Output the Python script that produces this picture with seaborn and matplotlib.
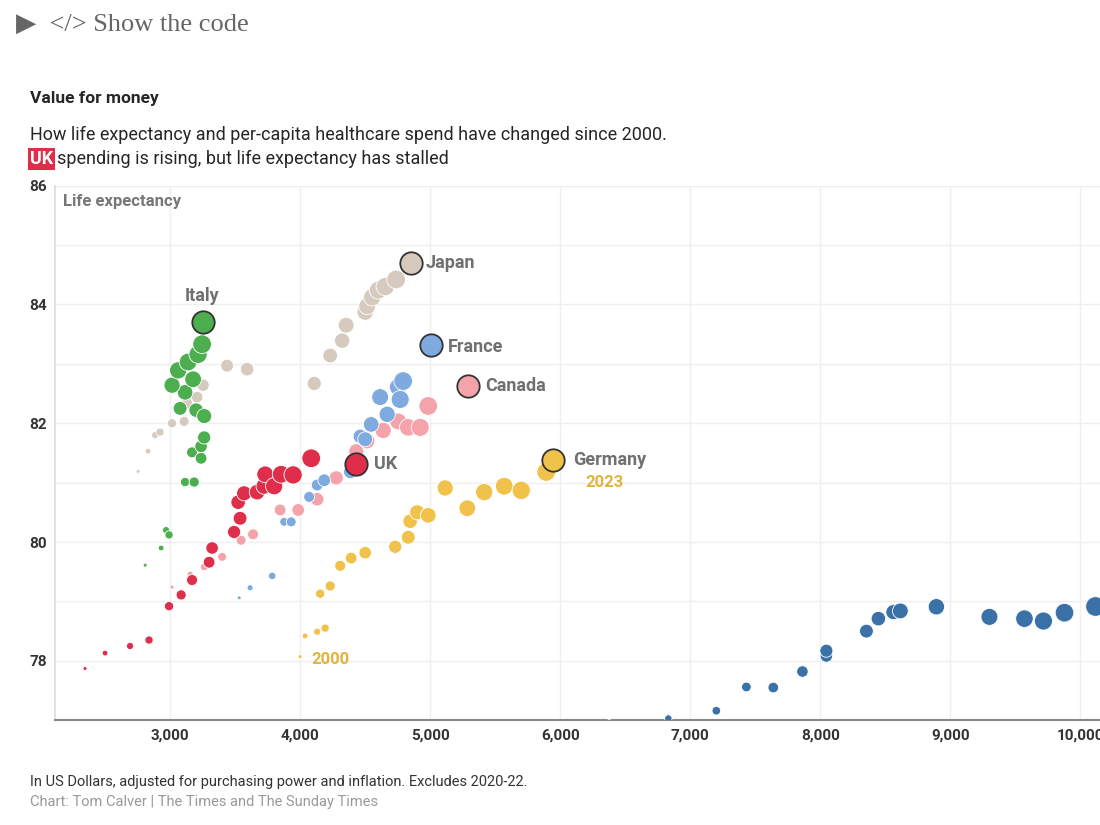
import numpy as np
import pandas as pd
import matplotlib.pyplot as plt
import seaborn as sns

# spend (US$ PPP) and life expectancy, 2000 -> 2023 (excl. 2020-22)
uk_spend = [2346, 2500, 2692, 2838, 2992, 3085, 3169, 3300, 3323, 3492, 3538, 3523, 3569, 3669, 3723, 3731, 3800, 3854, 3946, 4085, 4431]
uk_life = [77.87, 78.13, 78.25, 78.35, 78.92, 79.11, 79.36, 79.66, 79.90, 80.17, 80.40, 80.67, 80.82, 80.84, 80.94, 81.14, 80.94, 81.14, 81.13, 81.41, 81.31]
de_spend = [4000, 4038, 4131, 4192, 4154, 4231, 4308, 4392, 4500, 4731, 4831, 4846, 4900, 4985, 5115, 5285, 5415, 5569, 5700, 5892, 5946]
de_life = [78.07, 78.42, 78.49, 78.55, 79.13, 79.26, 79.60, 79.73, 79.82, 79.92, 80.08, 80.35, 80.50, 80.45, 80.91, 80.57, 80.84, 80.94, 80.87, 81.18, 81.38]
us_spend = [5954, 6377, 6831, 7200, 7431, 7638, 7862, 8046, 8046, 8354, 8446, 8562, 8615, 8892, 9300, 9569, 9715, 9877, 10115]
us_life = [76.77, 76.96, 77.03, 77.16, 77.56, 77.55, 77.82, 78.08, 78.17, 78.50, 78.71, 78.82, 78.84, 78.91, 78.74, 78.71, 78.67, 78.81, 78.92]
it_spend = [2808, 2931, 2969, 2992, 3115, 3185, 3169, 3238, 3238, 3262, 3077, 3200, 3262, 3115, 3015, 3177, 3062, 3138, 3215, 3246, 3254]
it_life = [79.61, 79.90, 80.20, 80.12, 81.01, 81.01, 81.51, 81.41, 81.61, 81.76, 82.25, 82.22, 82.12, 82.52, 82.64, 82.74, 82.89, 83.03, 83.16, 83.33, 83.70]
jp_spend = [2754, 2831, 2885, 2923, 3015, 3108, 3131, 3208, 3254, 3438, 3592, 4108, 4231, 4323, 4354, 4500, 4515, 4554, 4600, 4654, 4738, 4854]
jp_life = [81.19, 81.53, 81.80, 81.85, 82.00, 82.03, 82.34, 82.44, 82.64, 82.97, 82.91, 82.67, 83.14, 83.39, 83.65, 83.87, 83.97, 84.12, 84.24, 84.30, 84.42, 84.69]
fr_spend = [3531, 3615, 3785, 3877, 3931, 4069, 4131, 4185, 4385, 4462, 4500, 4546, 4669, 4615, 4754, 4769, 4792, 5008]
fr_life = [79.06, 79.23, 79.43, 80.34, 80.34, 80.76, 80.96, 81.04, 81.18, 81.78, 81.73, 81.98, 82.15, 82.44, 82.61, 82.40, 82.71, 83.31]
ca_spend = [3015, 3154, 3262, 3400, 3546, 3638, 3846, 3985, 4131, 4277, 4431, 4515, 4638, 4754, 4831, 4923, 4985, 5292]
ca_life = [79.24, 79.46, 79.58, 79.75, 80.03, 80.13, 80.54, 80.54, 80.72, 81.08, 81.53, 81.70, 81.88, 82.03, 81.93, 81.93, 82.29, 82.62]

countries = {
    "Japan": (jp_spend, jp_life, "#d5cabd"),
    "Canada": (ca_spend, ca_life, "#f5a3ab"),
    "France": (fr_spend, fr_life, "#7eaadf"),
    "Italy": (it_spend, it_life, "#4cae4f"),
    "Germany": (de_spend, de_life, "#f0c24b"),
    "UK": (uk_spend, uk_life, "#de2e4a"),
    "US": (us_spend, us_life, "#3a72a8"),
}

sns.set_theme(style="whitegrid")
plt.rcParams['font.family'] = ['Roboto', 'DejaVu Sans']

fig = plt.figure(figsize=(11, 8.25), dpi=100, facecolor="white")
ax = fig.add_axes([0.05, 0.127, 0.95, 0.648])

for name, (xs, ys, col) in countries.items():
    n = len(xs)
    df = pd.DataFrame({"spend": xs, "life": ys, "step": np.linspace(0, 1, n)})
    sns.scatterplot(data=df.iloc[:-1], x="spend", y="life", size="step", sizes=(8, 190),
                    size_norm=(0, 1), color=col, edgecolor="white", linewidth=0.6,
                    legend=False, ax=ax, zorder=3)
    if name != "US":
        sns.scatterplot(data=df.iloc[-1:], x="spend", y="life", s=260, color=col,
                        edgecolor="#333333", linewidth=1.3, legend=False, ax=ax, zorder=4)
    else:
        sns.scatterplot(data=df.iloc[-1:], x="spend", y="life", s=200, color=col,
                        edgecolor="white", linewidth=0.6, legend=False, ax=ax, zorder=4)

lab = dict(color="#707070", fontsize=13, fontweight="bold", va="center", zorder=5)
ax.text(jp_spend[-1] + 110, jp_life[-1], "Japan", **lab)
ax.text(fr_spend[-1] + 130, fr_life[-1] - 0.02, "France", **lab)
ax.text(ca_spend[-1] + 130, ca_life[-1], "Canada", **lab)
ax.text(uk_spend[-1] + 140, uk_life[-1], "UK", **lab)
ax.text(de_spend[-1] + 150, de_life[-1], "Germany", **lab)
ax.text(it_spend[-1] - 10, it_life[-1] + 0.45, "Italy", ha="center", **lab)
ax.text(de_spend[-1] + 250, de_life[-1] - 0.38, "2023", color="#e2b43c", fontsize=12,
        fontweight="bold", va="center")
ax.text(de_spend[0] + 90, de_life[0] - 0.05, "2000", color="#e2b43c", fontsize=12,
        fontweight="bold", va="center")

ax.set_xlim(2115, 10150)
ax.set_ylim(77.03, 86)
ax.set_xticks(range(3000, 11000, 1000))
ax.set_xticklabels([f"{v:,}" for v in range(3000, 11000, 1000)])
ax.set_yticks([78, 80, 82, 84, 86])
ax.set_yticks([77, 79, 81, 83, 85], minor=True)
ax.grid(True, which="both", color="#eeeef3", linewidth=1)
ax.tick_params(axis="both", which="major", labelsize=11, colors="#333333", length=0, pad=6)
for lbl in ax.get_xticklabels() + ax.get_yticklabels():
    lbl.set_fontweight("bold")
ax.set_xlabel("")
ax.set_ylabel("")
for s in ["top", "right"]:
    ax.spines[s].set_visible(False)
ax.spines["left"].set_color("#dddddd")
ax.spines["bottom"].set_color("#888888")
ax.spines["bottom"].set_linewidth(1.5)
ax.text(0.008, 0.985, "Life expectancy", transform=ax.transAxes, fontsize=12,
        fontweight="bold", color="#777777", va="top")

fig.text(0.015, 0.97, "\u25b6  </> Show the code", fontsize=19, color="#666666",
         family=["Liberation Serif", "DejaVu Sans"], va="center")
fig.text(0.027, 0.88, "Value for money", fontsize=12.5, fontweight="bold", va="center")
fig.text(0.027, 0.837, "How life expectancy and per-capita healthcare spend have changed since 2000.",
         fontsize=13, va="center")
fig.text(0.027, 0.807, "UK", fontsize=13, fontweight="bold", color="white", va="center",
         bbox=dict(facecolor="#de2e4a", edgecolor="none", pad=1.5))
fig.text(0.052, 0.807, "spending is rising, but life expectancy has stalled", fontsize=13,
         va="center")
fig.text(0.027, 0.052, "In US Dollars, adjusted for purchasing power and inflation. Excludes 2020-22.",
         fontsize=10.5, color="#333333", va="center")
fig.text(0.027, 0.028, "Chart: Tom Calver | The Times and The Sunday Times", fontsize=10.5,
         color="#999999", va="center")

fig.savefig("out.png", dpi=100, facecolor="white")
